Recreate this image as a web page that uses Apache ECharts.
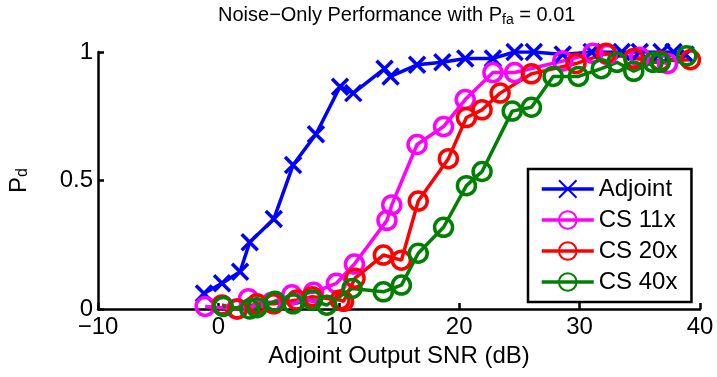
<!DOCTYPE html>
<html>
<head>
<meta charset="utf-8">
<script src="https://cdn.jsdelivr.net/npm/echarts@6/dist/echarts.min.js"></script>
<style>html,body{margin:0;padding:0;background:#fff}#c{width:717px;height:377px}</style>
</head>
<body>
<div id="c"></div>
<script>
var seriesNames = ['Adjoint', 'CS 11x', 'CS 20x', 'CS 40x'];
var xTicks = [-10, 0, 10, 20, 30, 40];
var yTicks = [0, 0.5, 1];

var adjoint = [[-1.2,0.06],[0.3,0.10],[1.8,0.145],[2.6,0.26],[4.6,0.35],[6.2,0.56],[8.1,0.68],[10.1,0.865],[11.2,0.84],[13.8,0.935],[14.3,0.905],[16.5,0.95],[18.6,0.96],[20.5,0.975],[22.8,0.975],[24.6,1.0],[26.2,1.0],[28.6,0.99],[31.0,1.0],[33.5,1.0],[35.0,1.0],[36.8,1.0],[37.8,1.0],[38.8,0.99]];
var cs11 = [[-1.1,0.01],[1.5,0.0],[2.5,0.04],[4.4,0.025],[6.1,0.055],[7.9,0.065],[9.8,0.10],[11.3,0.175],[14.0,0.345],[14.4,0.405],[16.5,0.64],[18.7,0.71],[20.5,0.815],[22.8,0.92],[24.6,0.92],[28.6,0.965],[31.1,0.995],[32.3,0.99],[35.0,0.98],[37.3,0.955]];
var cs20 = [[0.3,0.016],[1.6,0.0],[3.2,0.02],[4.6,0.02],[6.5,0.035],[7.8,0.048],[10.1,0.035],[10.4,0.03],[11.35,0.12],[13.7,0.21],[15.2,0.19],[16.6,0.42],[19.1,0.585],[20.6,0.745],[21.9,0.775],[23.4,0.84],[26.0,0.915],[29.7,0.955],[32.2,0.995],[34.5,0.975],[36.7,0.965],[39.2,0.97]];
var cs40 = [[0.4,0.01],[2.6,0.0],[3.2,0.005],[4.7,0.03],[6.2,0.02],[7.8,0.035],[9.0,0.015],[11.1,0.08],[13.7,0.067],[15.2,0.093],[16.6,0.217],[18.7,0.318],[20.6,0.48],[21.9,0.535],[24.4,0.77],[26.0,0.785],[27.8,0.905],[29.9,0.905],[31.8,0.935],[33.1,0.96],[34.5,0.925],[36.1,0.96],[36.7,0.96],[38.9,0.985]];

var FONT = '"Liberation Sans", Arial, Helvetica, sans-serif';
var chart = echarts.init(document.getElementById('c'), null, {renderer: 'canvas'});

var xPath = 'path://M0,0L10,10M10,0L0,10';
var oPath = 'path://M10,0A10,10 0 1,1 10,20A10,10 0 1,1 10,0Z';
function mk(name, data, color, symbol) {
  var isX = symbol === xPath;
  return {
    name: name, type: 'line', data: data, showAllSymbol: true,
    symbol: symbol, symbolSize: isX ? 16 : 18,
    lineStyle: {color: color, width: 3.5},
    itemStyle: {color: isX ? color : 'rgba(0,0,0,0)', borderColor: color, borderWidth: 3.5},
    emphasis: {disabled: true}, animation: false
  };
}
function minusFmt(v) { return String(v).replace('-', '\u2212'); }

chart.setOption({
  backgroundColor: '#fff',
  animation: false,
  title: {
    text: '{a|Noise\u2212Only Performance with P}{s|fa}{a| = 0.01}',
    left: 213, top: 0,
    textStyle: {
      fontWeight: 'normal',
      rich: {
        a: {fontFamily: FONT, fontSize: 20, fontWeight: 'normal', color: '#000', lineHeight: 22, verticalAlign: 'top'},
        s: {fontFamily: FONT, fontSize: 14, fontWeight: 'normal', color: '#000', lineHeight: 14, verticalAlign: 'bottom', padding: [15, 0, 0, 0]}
      }
    }
  },
  grid: {left: 98, right: 17, top: 52, bottom: 68, outerBoundsMode: 'none', containLabel: false},
  legend: {
    orient: 'vertical', left: 528, top: 169,
    data: seriesNames,
    backgroundColor: '#fff', borderColor: '#000', borderWidth: 2.5,
    padding: [8, 14, 8, 12], itemWidth: 52, itemHeight: 22, itemGap: 7,
    lineStyle: {width: 3.5},
    textStyle: {fontFamily: FONT, fontSize: 24, color: '#000', lineHeight: 24}
  },
  xAxis: {
    type: 'value', min: xTicks[0], max: xTicks[xTicks.length - 1], interval: 10,
    name: 'Adjoint Output SNR (dB)', nameLocation: 'middle', nameGap: 33,
    nameTextStyle: {fontFamily: FONT, fontSize: 24, color: '#000'},
    axisLine: {onZero: false, lineStyle: {color: '#000', width: 2.5}},
    axisTick: {inside: true, length: 6, lineStyle: {color: '#000', width: 2.5}},
    axisLabel: {fontFamily: FONT, fontSize: 24, color: '#000', margin: 6, formatter: minusFmt},
    splitLine: {show: false}
  },
  yAxis: {
    type: 'value', min: yTicks[0], max: yTicks[yTicks.length - 1], interval: 0.5,
    name: '{p|P}{s|d}', nameLocation: 'middle', nameGap: 67, nameRotate: 90,
    nameTextStyle: {
      rich: {
        p: {fontFamily: FONT, fontSize: 24, color: '#000', lineHeight: 24, verticalAlign: 'top'},
        s: {fontFamily: FONT, fontSize: 16, color: '#000', lineHeight: 16, verticalAlign: 'bottom', padding: [19, 0, 0, 0]}
      }
    },
    axisLine: {show: true, onZero: false, lineStyle: {color: '#000', width: 2.5}},
    axisTick: {show: true, inside: true, length: 6, lineStyle: {color: '#000', width: 2.5}},
    axisLabel: {fontFamily: FONT, fontSize: 24, color: '#000', margin: 5},
    splitLine: {show: false}
  },
  series: [
    mk(seriesNames[0], adjoint, '#0000ff', xPath),
    mk(seriesNames[1], cs11, '#ff00ff', oPath),
    mk(seriesNames[2], cs20, '#ff0000', oPath),
    mk(seriesNames[3], cs40, '#008000', oPath)
  ]
});
</script>
</body>
</html>
